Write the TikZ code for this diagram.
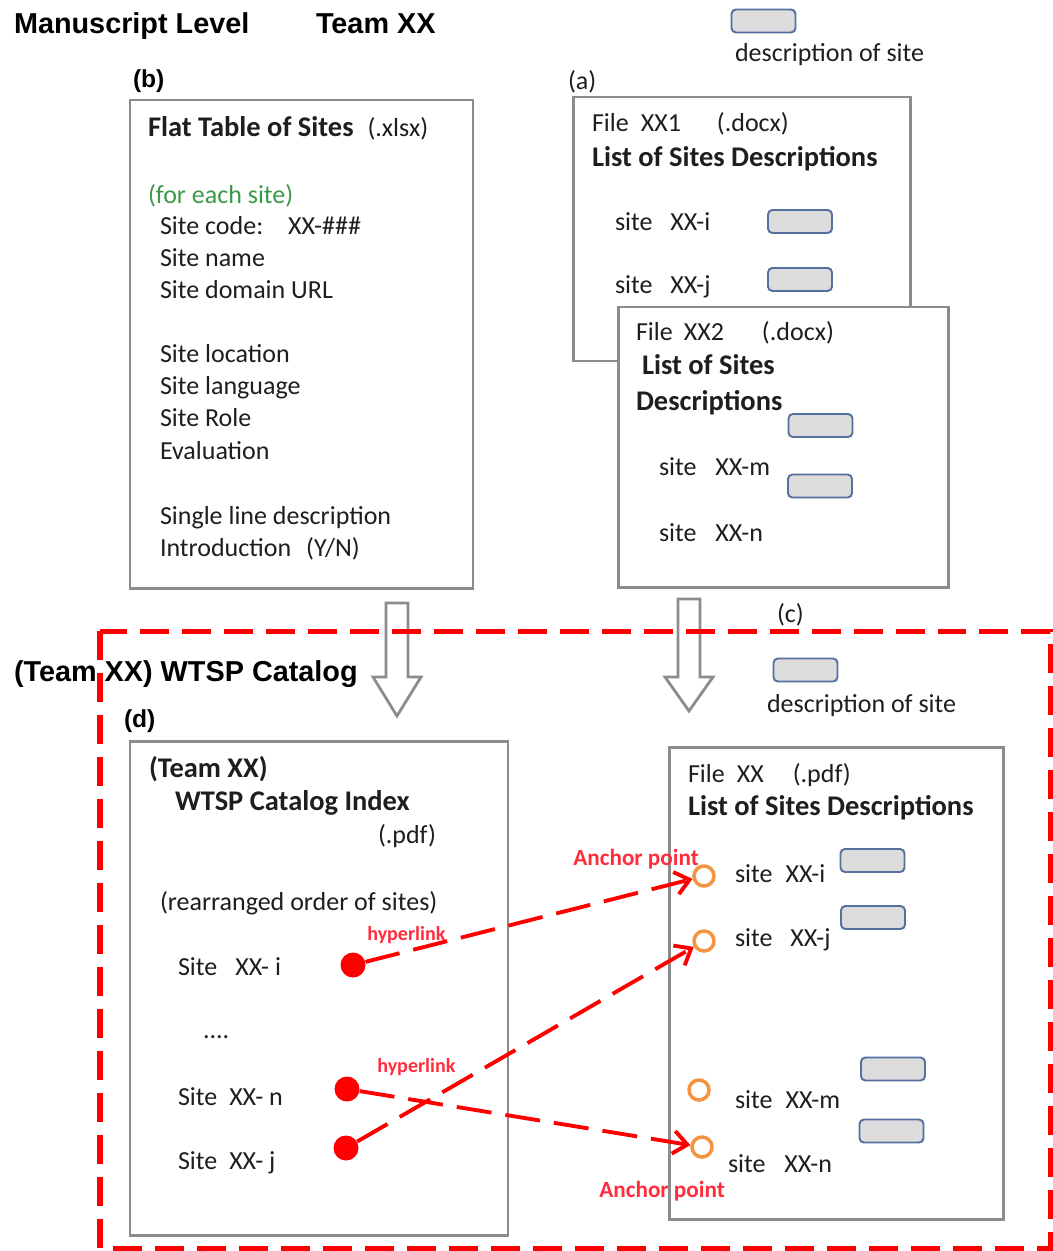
\documentclass[tikz,border=0pt]{standalone}
\usepackage{fontspec}
\setmainfont{Carlito}
\newfontfamily\arialf{Liberation Sans}
\usetikzlibrary{arrows.meta}
\newlength\pxu \setlength\pxu{0.02cm}
\newcommand\gp[1]{\hspace*{#1\pxu}}
\newcommand\fBody{\fontsize{14.8}{17}\selectfont}
\newcommand\fHead{\fontsize{16.2}{19}\selectfont\bfseries}
\newcommand\fArial{\arialf\bfseries\fontsize{16.4}{19}\selectfont}
\newcommand\fLbl{\arialf\bfseries\fontsize{14}{16}\selectfont}
\newcommand\fHyp{\bfseries\fontsize{11.4}{14}\selectfont}
\newcommand\fAnc{\bfseries\fontsize{13.2}{15}\selectfont}
\definecolor{boxgray}{HTML}{8C8C8C}
\definecolor{descfill}{HTML}{DCDCDC}
\definecolor{descedge}{HTML}{55709E}
\definecolor{txtc}{HTML}{1E1E1E}
\definecolor{greent}{HTML}{3A9A48}
\definecolor{anchorc}{HTML}{F29440}
\definecolor{hypred}{HTML}{FF2D3C}
\tikzset{
  txt/.style={anchor=base west, inner sep=0pt, outer sep=0pt, text=txtc, font=\fBody},
  hd/.style={txt, font=\fHead},
  ttl/.style={anchor=base west, inner sep=0pt, outer sep=0pt, font=\fArial, text=black},
  lbl/.style={anchor=base west, inner sep=0pt, outer sep=0pt, font=\fLbl, text=black},
  graybox/.style={draw=boxgray, line width=1.7pt, fill=white},
  descbox/.style={draw=descedge, fill=descfill, rounded corners=2.5pt, line width=1.1pt,
                  minimum width=1.28cm, minimum height=0.46cm, inner sep=0pt},
  hollow/.style={draw=boxgray, line width=1.6pt, fill=white, line join=miter},
  reddash/.style={draw=red, line width=2.85pt, dash pattern=on 16.5pt off 7.4pt},
  link/.style={draw=red, line width=2.2pt, dash pattern=on 20pt off 8pt,
               -{Straight Barb[length=8pt,width=13pt]}},
  dot/.style={circle, fill=red, inner sep=0pt, minimum size=0.5cm},
  anch/.style={circle, draw=anchorc, line width=2pt, fill=white, inner sep=0pt, minimum size=0.4cm},
  hyp/.style={anchor=base west, inner sep=0pt, font=\fHyp, text=hypred},
  anc/.style={anchor=base west, inner sep=0pt, font=\fAnc, text=hypred}
}
\begin{document}
\begin{tikzpicture}[x=0.02cm, y=-0.02cm]
\useasboundingbox (0,0) rectangle (1052,1251);

% top titles
\node[ttl] (t1) at (14,33) {Manuscript Level};
\node[ttl] (t2) at (316,33) {Team XX};
\node[descbox] (lg1) at (763.5,21) {};
\node[txt] (lg1t) at (735,61) {description of site};

% box b
\node[lbl] (lb) at (133,87) {(b)};
\draw[graybox] (130,100) rectangle (473,588);
\node[hd] (b1) at (148,136) {Flat Table of Sites\gp{14}\normalfont\fBody(.xlsx)};
\node[txt, text=greent] (b2) at (148,203) {(for each site)};
\node[txt] (b3) at (160,234) {Site code:\gp{25}XX-\#\#\#};
\node[txt] (b4) at (160,266) {Site name};
\node[txt] (b5) at (160,298) {Site domain URL};
\node[txt] (b6) at (160,362) {Site location};
\node[txt] (b7) at (160,394) {Site language};
\node[txt] (b8) at (160,426) {Site Role};
\node[txt] (b9) at (160,459) {Evaluation};
\node[txt] (b10) at (160,524) {Single line description};
\node[txt] (b11) at (160,556) {Introduction\gp{15}(Y/N)};

% box a1
\node[txt] (la) at (568,89) {(a)};
\draw[graybox] (573,97) rectangle (910,361);
\node[txt] (a1) at (592,131) {File\gp{12}XX1\gp{36}(.docx)};
\node[hd] (a2) at (592,166) {List of Sites Descriptions};
\node[txt] (a3) at (615,230) {site\gp{18}XX-i};
\node[descbox] (rai) at (800,221.5) {};
\node[txt] (a4) at (615,293) {site\gp{18}XX-j};
\node[descbox] (raj) at (800,279.5) {};

% box a2
\draw[graybox] (618,307) rectangle (948,587);
\node[txt] (a5) at (636,340) {File\gp{11}XX2\gp{38}(.docx)};
\node[hd] (a6) at (642,374) {List of Sites};
\node[hd] (a7) at (636,410) {Descriptions};
\node[descbox] (ram) at (820.5,425.5) {};
\node[txt] (a8) at (659,475) {site\gp{19}XX-m};
\node[descbox] (ran) at (820,486) {};
\node[txt] (a9) at (659,541) {site\gp{19}XX-n};

% hollow arrows
\draw[hollow] (386,603) -- (408,603) -- (408,677) -- (421,677) -- (397,716) -- (373,677) -- (386,677) -- cycle;
\draw[hollow] (678,599) -- (700,599) -- (700,677) -- (713,677) -- (689,711) -- (665,677) -- (678,677) -- cycle;

% catalog section
\node[txt] (lc) at (777,622) {(c)};
\node[ttl] (t3) at (14,681) {(Team XX) WTSP Catalog};
\node[descbox] (lg2) at (805.5,670) {};
\node[txt] (lg2t) at (767,712) {description of site};
\node[lbl] (ld) at (124,727) {(d)};

% box d
\draw[graybox] (130,741) rectangle (508,1235);
\node[hd] (d1) at (149,777) {(Team XX)};
\node[hd] (d2) at (175,810) {WTSP Catalog Index};
\node[txt] (d3) at (378,843) {(.pdf)};
\node[txt] (d4) at (160,910) {(rearranged order of sites)};
\node[txt] (d5) at (178,975) {Site\gp{18}XX- i};
\node[txt] (d6) at (203,1038) {....};
\node[txt] (d7) at (178,1105) {Site\gp{12}XX- n};
\node[txt] (d8) at (178,1169) {Site\gp{12}XX- j};

% box c
\draw[graybox] (669,747) rectangle (1003,1219);
\node[txt] (c1) at (688,782) {File\gp{12}XX\gp{29}(.pdf)};
\node[hd] (c2) at (688,815) {List of Sites Descriptions};
\node[txt] (c3) at (735,882) {site\gp{13}XX-i};
\node[descbox] (rci) at (872.5,860.5) {};
\node[txt] (c4) at (735,946) {site\gp{18}XX-j};
\node[descbox] (rcj) at (873,917.5) {};
\node[descbox] (rcm) at (893,1069) {};
\node[txt] (c5) at (735,1108) {site\gp{13}XX-m};
\node[descbox] (rcn) at (891.5,1131) {};
\node[txt] (c6) at (728,1172) {site\gp{19}XX-n};

% anchors and dots
\node[anch] (ci) at (704,876) {};
\node[anch] (cj) at (704,941) {};
\node[anch] (cm) at (699,1090) {};
\node[anch] (cn) at (702,1147) {};
\node[dot] (di) at (353,965) {};
\node[dot] (dn) at (347,1089) {};
\node[dot] (dj) at (346,1148) {};

% links
\draw[link] (di) -- (ci);
\draw[link] (dj) -- (cj);
\draw[link] (dn) -- (cn);

\node[hyp] (h1) at (367,940) {hyperlink};
\node[hyp] (h2) at (377,1072) {hyperlink};
\node[anc] (an1) at (573,865) {Anchor point};
\node[anc] (an2) at (599,1197) {Anchor point};

% red dashed frame
\draw[reddash] (100,631) rectangle (1050,1248);
\end{tikzpicture}
\end{document}
